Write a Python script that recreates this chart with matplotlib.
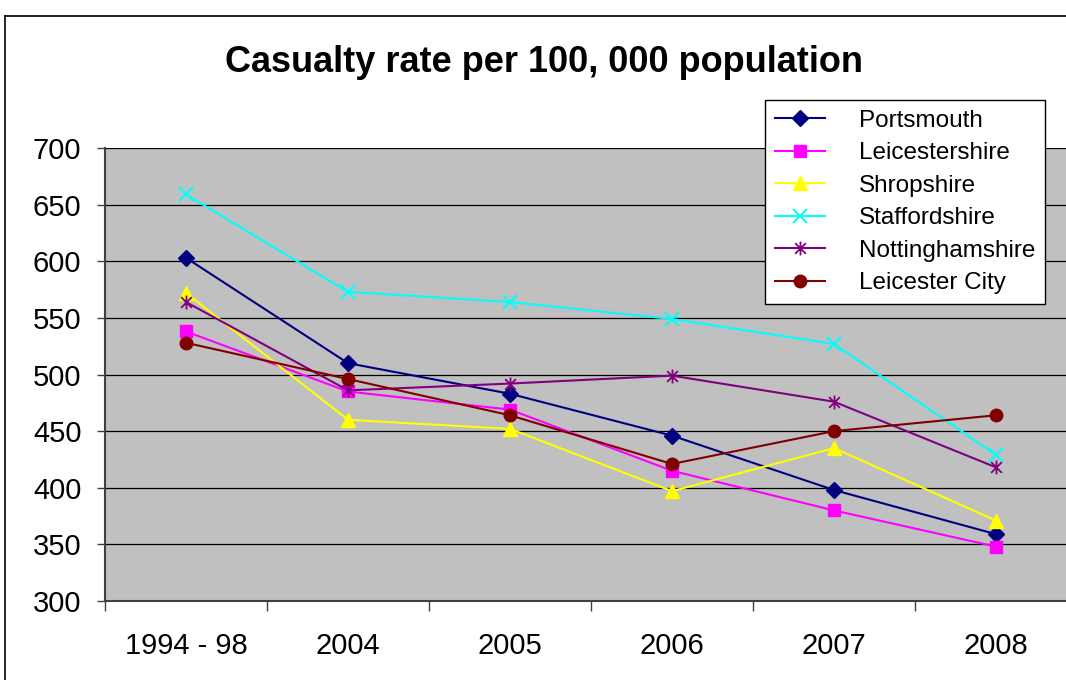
import matplotlib
matplotlib.use("Agg")
import matplotlib.pyplot as plt
from matplotlib.lines import Line2D
from matplotlib.path import Path

plt.rcParams['font.family'] = ['Liberation Sans', 'DejaVu Sans']

categories = ["1994 - 98", "2004", "2005", "2006", "2007", "2008"]
portsmouth = [603, 510, 483, 446, 398, 359]
leicestershire = [538, 485, 469, 415, 380, 348]
shropshire = [572, 460, 452, 397, 435, 371]
staffordshire = [659, 573, 564, 549, 527, 429]
nottinghamshire = [564, 486, 492, 499, 476, 418]
leicester_city = [528, 496, 464, 421, 450, 464]

series_names = ["Portsmouth", "Leicestershire", "Shropshire", "Staffordshire",
                "Nottinghamshire", "Leicester City"]
y_ticks = [300, 350, 400, 450, 500, 550, 600, 650, 700]

# Excel-style "star": an X with a vertical bar through it
star = Path([(-1, -1), (1, 1), (-1, 1), (1, -1), (0, -1.3), (0, 1.3)],
            [Path.MOVETO, Path.LINETO, Path.MOVETO, Path.LINETO, Path.MOVETO, Path.LINETO])

styles = [
    dict(color="#000080", marker="D", ms=8),
    dict(color="#FF00FF", marker="s", ms=9),
    dict(color="#FFFF00", marker="^", ms=10),
    dict(color="#00FFFF", marker="x", ms=10, mew=1.5),
    dict(color="#800080", marker=star, ms=10, mew=1.3),
    dict(color="#800000", marker="o", ms=9),
]

W, H = 1066, 680
fig = plt.figure(figsize=(W / 100, H / 100), dpi=100)
fig.patch.set_facecolor("white")

ax = fig.add_axes([105 / W, 79 / H, 972 / W, 453 / H])
ax.set_facecolor("#C0C0C0")

x = list(range(len(categories)))
all_series = [portsmouth, leicestershire, shropshire, staffordshire,
              nottinghamshire, leicester_city]
for name, vals, st in zip(series_names, all_series, styles):
    ax.plot(x, vals, color=st["color"], lw=1.5, marker=st["marker"],
            markersize=st["ms"], markerfacecolor=st["color"],
            markeredgecolor=st["color"], markeredgewidth=st.get("mew", 1.0),
            label=name, clip_on=False, zorder=3)

ax.set_xlim(-0.5, len(categories) - 0.5)
ax.set_ylim(300, 700)
ax.set_yticks(y_ticks)
ax.set_yticklabels([str(v) for v in y_ticks])
ax.set_xticks(x)
ax.set_xticklabels(categories)
ax.set_xticks([i - 0.5 for i in range(len(categories) + 1)], minor=True)

ax.grid(axis="y", color="black", lw=0.9, zorder=1)
ax.set_axisbelow(True)
for s in ["top", "right"]:
    ax.spines[s].set_visible(False)
for s in ["left", "bottom"]:
    ax.spines[s].set_color("#404040")
    ax.spines[s].set_linewidth(1.5)

ax.tick_params(axis="y", direction="out", length=6, width=1.0, color="#404040",
               pad=11, labelsize=21)
ax.tick_params(axis="x", which="major", length=0, pad=22, labelsize=21)
ax.tick_params(axis="x", which="minor", direction="out", length=7, width=1.0,
               color="#404040")

fig.text(544 / W, 1 - 62 / H, "Casualty rate per 100, 000 population",
         ha="center", va="center", fontsize=26, fontweight="bold")

leg = fig.legend(loc="upper left", bbox_to_anchor=(765 / W, 1 - 100 / H),
                 borderaxespad=0, frameon=True, fancybox=False, framealpha=1,
                 fontsize=17.5, handlelength=2.05, handletextpad=1.4,
                 labelspacing=0.43, borderpad=0.4)
leg.get_frame().set_edgecolor("black")
leg.get_frame().set_facecolor("white")
leg.get_frame().set_linewidth(1.0)

# outer chart border
fig.add_artist(Line2D([4.5 / W, 4.5 / W], [0, 1 - 16 / H], transform=fig.transFigure,
                      color="black", lw=1.2))
fig.add_artist(Line2D([4.5 / W, 1], [1 - 16 / H, 1 - 16 / H], transform=fig.transFigure,
                      color="black", lw=1.2))

fig.savefig("out.png", dpi=100)
